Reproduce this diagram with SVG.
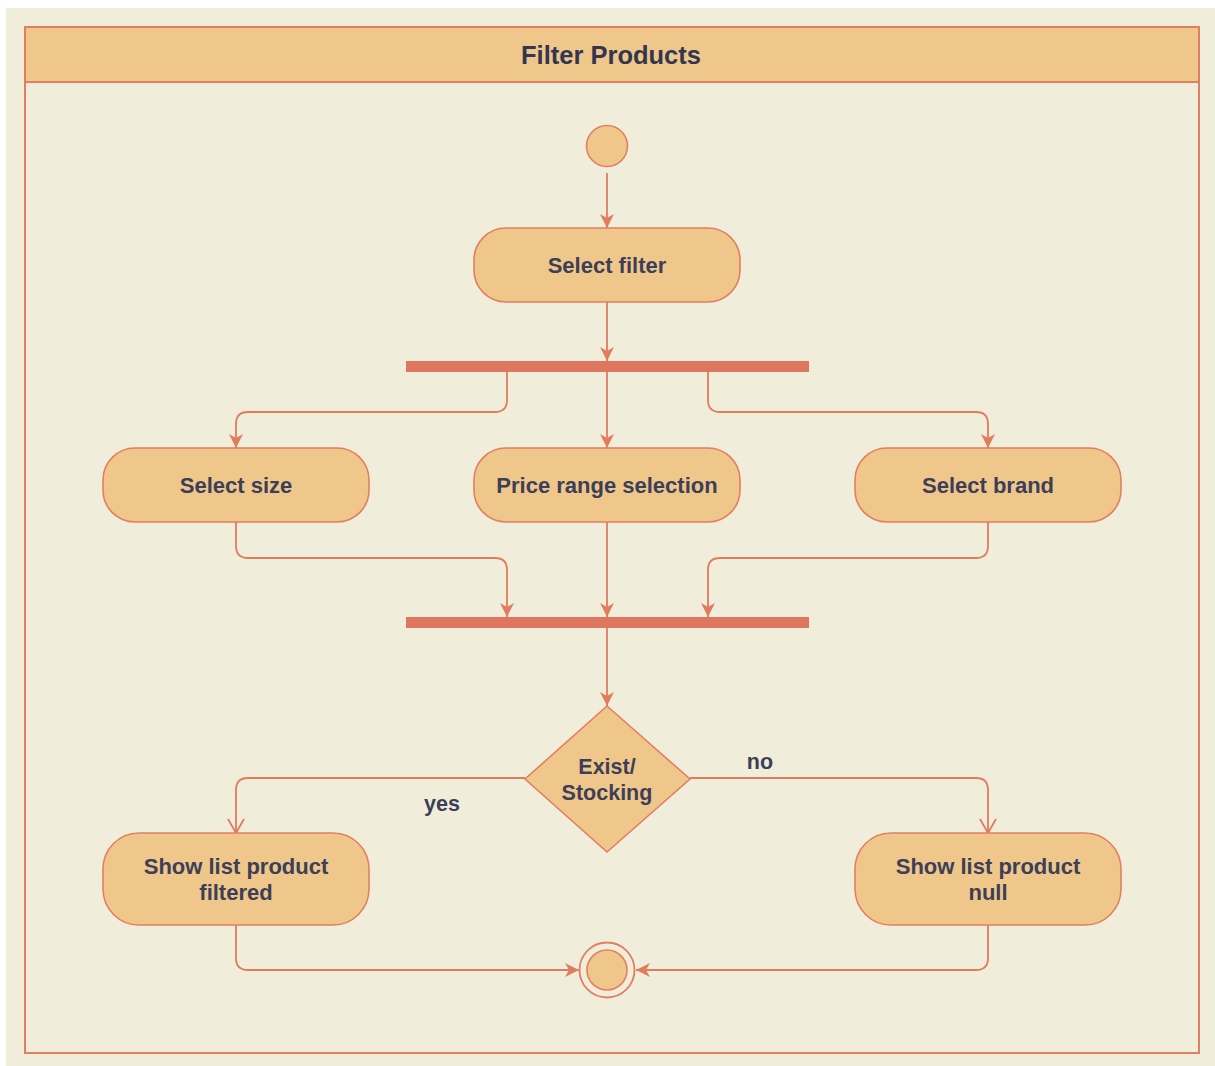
<svg xmlns="http://www.w3.org/2000/svg" width="1215" height="1066" viewBox="0 0 1215 1066">
<defs>
<style>
.bg{fill:#F0EEDB}
.frame{fill:#F0EEDB;stroke:#E47E62;stroke-width:2}
.hdr{fill:#F0C78A;stroke:#E47E62;stroke-width:2}
.node{fill:#F0C78A;stroke:#E47E62;stroke-width:1.6}
.bar{fill:#DF7760}
.edge{fill:none;stroke:#E27C5F;stroke-width:1.8}
.t{font-family:"Liberation Sans",Arial,sans-serif;font-size:22px;font-weight:bold;fill:#3C3F57;text-anchor:middle}
.lbl{font-family:"Liberation Sans",Arial,sans-serif;font-size:21.5px;font-weight:bold;fill:#3C3F57;text-anchor:middle}
.title{font-family:"Liberation Sans",Arial,sans-serif;font-size:25.5px;font-weight:bold;fill:#33364F;text-anchor:middle}
</style>
<marker id="fa" markerUnits="userSpaceOnUse" markerWidth="16" markerHeight="16" refX="14" refY="7" orient="auto">
<path d="M0,0 L14,7 L0,14 L4,7 Z" fill="#E27C5F"/>
</marker>
<marker id="oa" markerUnits="userSpaceOnUse" markerWidth="18" markerHeight="20" refX="15" refY="9" orient="auto">
<path d="M1,1 L15,9 L1,17" fill="none" stroke="#E27C5F" stroke-width="1.8"/>
</marker>
</defs>
<rect x="6" y="8" width="1209" height="1058" class="bg"/>
<g id="frame">
<rect x="25" y="27" width="1174" height="1026" class="frame"/>
<rect x="25" y="27" width="1174" height="55" class="hdr"/>
<text x="611" y="64" class="title">Filter Products</text>
</g>
<g id="connectors">
<path class="edge" d="M607,173 V228" marker-end="url(#fa)"/>
<path class="edge" d="M607,302 V361" marker-end="url(#fa)"/>
<path class="edge" d="M507,372 V400 Q507,412 495,412 H248 Q236,412 236,424 V448" marker-end="url(#fa)"/>
<path class="edge" d="M607,372 V448" marker-end="url(#fa)"/>
<path class="edge" d="M708,372 V400 Q708,412 720,412 H976 Q988,412 988,424 V448" marker-end="url(#fa)"/>
<path class="edge" d="M236,522 V546 Q236,558 248,558 H495 Q507,558 507,570 V617" marker-end="url(#fa)"/>
<path class="edge" d="M607,522 V617" marker-end="url(#fa)"/>
<path class="edge" d="M988,522 V546 Q988,558 976,558 H720 Q708,558 708,570 V617" marker-end="url(#fa)"/>
<path class="edge" d="M607,628 V706" marker-end="url(#fa)"/>
<path class="edge" d="M525,778 H248 Q236,778 236,790 V833" marker-end="url(#oa)"/>
<path class="edge" d="M690,778 H976 Q988,778 988,790 V833" marker-end="url(#oa)"/>
<path class="edge" d="M236,925 V958 Q236,970 248,970 H579" marker-end="url(#fa)"/>
<path class="edge" d="M988,925 V958 Q988,970 976,970 H636" marker-end="url(#fa)"/>
<text x="442" y="811" class="lbl">yes</text>
<text x="760" y="769" class="lbl">no</text>
</g>
<g id="start"><circle cx="607" cy="146" r="20.5" class="node"/></g>
<g id="select-filter">
<rect x="474" y="228" width="266" height="74" rx="32" class="node"/>
<text x="607" y="273" class="t">Select filter</text>
</g>
<g id="fork"><rect x="406" y="361" width="403" height="11" class="bar"/></g>
<g id="select-size">
<rect x="103" y="448" width="266" height="74" rx="32" class="node"/>
<text x="236" y="493" class="t">Select size</text>
</g>
<g id="price-range">
<rect x="474" y="448" width="266" height="74" rx="32" class="node"/>
<text x="607" y="493" class="t">Price range selection</text>
</g>
<g id="select-brand">
<rect x="855" y="448" width="266" height="74" rx="32" class="node"/>
<text x="988" y="493" class="t">Select brand</text>
</g>
<g id="join"><rect x="406" y="617" width="403" height="11" class="bar"/></g>
<g id="decision">
<polygon points="607,706 690,779 607,852 525,779" class="node"/>
<text x="607" y="774" class="lbl">Exist/</text>
<text x="607" y="800" class="lbl">Stocking</text>
</g>
<g id="show-filtered">
<rect x="103" y="833" width="266" height="92" rx="36" class="node"/>
<text x="236" y="874" class="t">Show list product</text>
<text x="236" y="900" class="t">filtered</text>
</g>
<g id="show-null">
<rect x="855" y="833" width="266" height="92" rx="36" class="node"/>
<text x="988" y="874" class="t">Show list product</text>
<text x="988" y="900" class="t">null</text>
</g>
<g id="end">
<circle cx="607" cy="970" r="27.5" fill="none" stroke="#E47E62" stroke-width="1.8"/>
<circle cx="607" cy="970" r="20" class="node"/>
</g>
</svg>
